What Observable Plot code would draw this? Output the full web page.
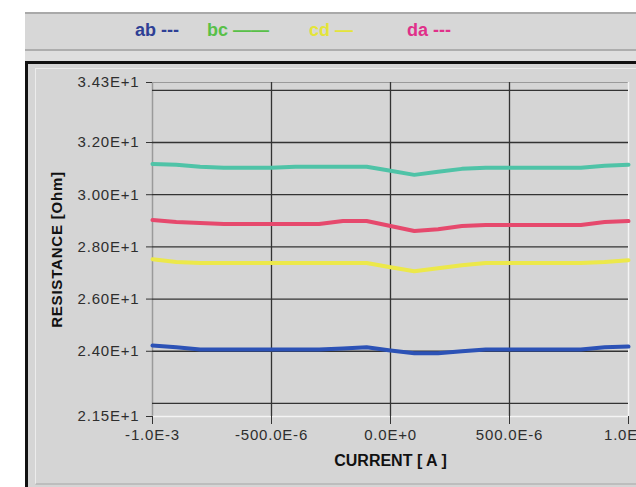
<!DOCTYPE html>
<html>
<head>
<meta charset="utf-8">
<script src="https://cdn.jsdelivr.net/npm/d3@7"></script>
<script src="https://cdn.jsdelivr.net/npm/@observablehq/plot@0.6"></script>
<style>
  body { margin: 0; background: #fff; }
  #wrap { position: relative; width: 636px; height: 487px; overflow: hidden; background: #fff; font-family: "Liberation Sans", Arial, sans-serif; }
  .abs { position: absolute; }
  .leg { position: absolute; top: 20px; font: bold 18px "Liberation Sans Narrow", "Arial Narrow", "Liberation Sans", sans-serif; white-space: pre; }
  #chart { position: absolute; left: 0; top: 0; }
  #chart svg g[aria-label="y-axis tick label"] text,
  #chart svg g[aria-label="x-axis tick label"] text { letter-spacing: 0.8px; }
  #chart svg .ytitle text { letter-spacing: 0.8px; }
</style>
</head>
<body>
<div id="wrap">
  <div class="abs" style="left:25px;top:12px;width:611px;height:35px;background:#d7d7d7;border-top:2px solid #a9a9a9;border-bottom:2px solid #adadad;"></div>
  <div class="abs" style="left:25px;top:51px;width:611px;height:10px;background:#dedede;"></div>
  <div class="abs" style="left:25px;top:61px;width:608px;height:423px;background:#d5d5d5;border-top:3px solid #111;border-left:3px solid #111;"></div>
  <div class="abs" style="left:35px;top:68px;width:601px;height:414px;border-left:1px solid #ececec;border-top:1px solid #ececec;border-bottom:2px solid #bdbdbd;"></div>
  <div id="legend"></div>
  <div id="chart"></div>
</div>
<script>
// Current (A)
const current = [-1.0e-3, -0.9e-3, -0.8e-3, -0.7e-3, -0.6e-3, -0.5e-3, -0.4e-3, -0.3e-3, -0.2e-3, -0.1e-3,
  0, 0.1e-3, 0.2e-3, 0.3e-3, 0.4e-3, 0.5e-3, 0.6e-3, 0.7e-3, 0.8e-3, 0.9e-3, 1.0e-3];
// Resistance (Ohm) per contact pair
const ab = [24.22, 24.15, 24.07, 24.07, 24.07, 24.07, 24.07, 24.07, 24.11, 24.15, 24.03, 23.92, 23.92, 24.00, 24.07, 24.07, 24.07, 24.07, 24.07, 24.15, 24.18];
const bc = [31.18, 31.15, 31.07, 31.03, 31.03, 31.03, 31.07, 31.07, 31.07, 31.07, 30.92, 30.76, 30.88, 30.99, 31.03, 31.03, 31.03, 31.03, 31.03, 31.11, 31.15];
const cd = [27.53, 27.42, 27.38, 27.38, 27.38, 27.38, 27.38, 27.38, 27.38, 27.38, 27.22, 27.07, 27.18, 27.30, 27.38, 27.38, 27.38, 27.38, 27.38, 27.42, 27.49];
const da = [29.03, 28.95, 28.92, 28.88, 28.88, 28.88, 28.88, 28.88, 28.99, 28.99, 28.80, 28.61, 28.68, 28.80, 28.84, 28.84, 28.84, 28.84, 28.84, 28.95, 28.99];

const seriesNames = ["ab", "bc", "cd", "da"];
const legendMarks = ["---", "\u2014\u2014", "\u2014", "---"];
const yTicks = [34.3, 32, 30, 28, 26, 24, 21.5];
const yGrid = [34, 32, 30, 28, 26, 24, 22];
const xTicks = [-1.0e-3, -0.5e-3, 0, 0.5e-3, 1.0e-3];
const xGrid = [-0.5e-3, 0, 0.5e-3];
const yTitle = "RESISTANCE [Ohm]";
const xTitle = "CURRENT [ A ]";

const lineColors = ["#2c52b6", "#4fc3a7", "#ece84a", "#e6496d"];
const legendColors = ["#2e3f95", "#58c048", "#e4e43a", "#e0308a"];
const legendX = [135, 207, 309, 407];

const values = {ab, bc, cd, da};
const rows = [];
for (const s of seriesNames) values[s].forEach((v, i) => rows.push({series: s, current: current[i], r: v}));

function fmtX(v) {
  if (v === 0) return "0.0E+0";
  const e = Math.floor(Math.log10(Math.abs(v)) / 3 + 1e-9) * 3;
  const m = v / Math.pow(10, e);
  return m.toFixed(1) + "E" + (e >= 0 ? "+" + e : e);
}
const fmtY = v => (v / 10).toFixed(2) + "E+1";

const legend = document.getElementById("legend");
seriesNames.forEach((s, i) => {
  const d = document.createElement("div");
  d.className = "leg";
  d.style.left = legendX[i] + "px";
  d.style.color = legendColors[i];
  d.textContent = s + " " + legendMarks[i];
  legend.appendChild(d);
});

const plot = Plot.plot({
  width: 636,
  height: 487,
  marginLeft: 152,
  marginRight: 8,
  marginTop: 82,
  marginBottom: 71,
  style: {background: "transparent", fontSize: "15px", fontFamily: "'Liberation Sans', Arial, sans-serif", color: "#2e2e2e"},
  x: {domain: [-1e-3, 1e-3]},
  y: {domain: [21.5, 34.3]},
  color: {domain: seriesNames, range: lineColors},
  marks: [
    Plot.ruleY([34.3], {stroke: "#9a9a9a", strokeWidth: 1}),
    Plot.ruleX([-1e-3], {stroke: "#9a9a9a", strokeWidth: 1.5}),
    Plot.ruleX([1e-3], {stroke: "#f4f4f4", strokeWidth: 1.5}),
    Plot.ruleY([21.5], {stroke: "#f4f4f4", strokeWidth: 1.5}),
    Plot.ruleY(yGrid, {stroke: "#333", strokeWidth: 1.3}),
    Plot.ruleX(xGrid, {stroke: "#333", strokeWidth: 1.3}),
    Plot.line(rows, {x: "current", y: "r", z: "series", stroke: "series", curve: "linear", strokeWidth: 4}),
    Plot.axisY({ticks: yTicks, tickFormat: fmtY, tickSize: 6, tickPadding: 7, label: null, stroke: "#333"}),
    Plot.axisX({ticks: xTicks, tickFormat: fmtX, tickSize: 8, tickPadding: 5, label: null, stroke: "#333"}),
    Plot.text([yTitle], {frameAnchor: "left", dx: -95, rotate: -90, textAnchor: "middle", fontWeight: "bold", fontSize: 15, fill: "#111", className: "ytitle"}),
    Plot.text([xTitle], {frameAnchor: "bottom", dy: 49, textAnchor: "middle", fontWeight: "bold", fontSize: 16, fill: "#111", fontFamily: "'Liberation Sans Narrow', 'Arial Narrow', sans-serif"})
  ]
});
document.getElementById("chart").appendChild(plot);
</script>
</body>
</html>
